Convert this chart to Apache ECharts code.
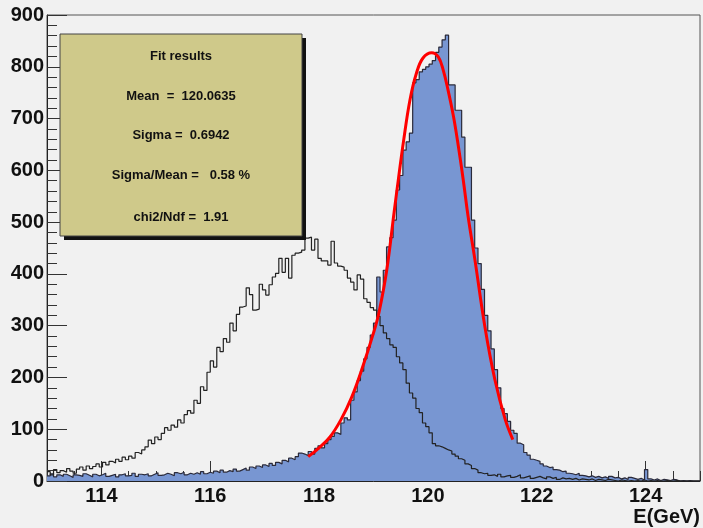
<!DOCTYPE html>
<html>
<head>
<meta charset="utf-8">
<script src="https://cdn.jsdelivr.net/npm/echarts@6/dist/echarts.min.js"></script>
<style>html,body{margin:0;padding:0;background:#f1f1f1;}#c{width:703px;height:528px;}</style>
</head>
<body>
<div id="c"></div>
<script>
// Histogram binning (GeV)
const binStart = 113;
const binWidth = 0.06;

// Filled (blue) histogram: corrected energy
const corrected = [
10,14,8,12,9, 13,10,7,12,11, 9,14,11,8,13, 10,12,15,9,11,
13,8,12,14,10, 11,15,9,13,12, 14,10,13,16,11, 12,15,13,10,16,
14,17,12,15,13, 16,13,18,14,17, 15,19,16,21,17, 20,18,23,19,22,
25,21,27,24,29, 26,31,28,34,30, 36,33,40,37,44, 41,47,54,52,49,
57,52,63,68,64, 72,80,86,93,90, 112,122,118,156,172, 194,212,236,258,282,
305,394,365,407,452, 470,504,562,590,639, 655,672,769,775,790, 795,800,805,812,828,
838,852,861,765,765, 716,716,664,606,606, 504,450,420,370,320, 290,255,215,180,140,
130,115,98,92,73, 70,55,50,42,40, 38,33,29,26,27, 22,21,18,19,15,
14,12,15,11,10, 8,10,7,9,6, 8,5,9,6,7, 4,6,3,7,5,
3,5,2,22,4, 2,4,1,3,2, 1,3,2,0,1, 0,1,0,0,0
];

// Open (outline) histogram: uncorrected energy
const uncorrected = [
18,12,22,16,20, 17,24,19,15,23, 27,21,29,24,28, 33,27,36,31,38,
35,42,38,46,41, 48,44,55,52,60, 66,79,72,85,80, 92,103,98,108,104,
118,112,128,136,131, 156,150,182,175,210, 232,220,258,250,275, 268,305,290,322,336,
338,373,360,330,332, 380,369,359,379,394, 401,430,403,430,392, 436,440,442,446,469,
471,446,467,430,425, 425,417,463,421,415, 413,407,392,384,369, 398,390,352,345,335,
330,318,300,286,275, 263,258,240,228,215, 189,170,160,140,132, 112,105,93,72,68,
66,63,60,58,52, 48,43,40,33,30, 24,21,16,14,15, 11,12,9,13,8,
10,11,7,9,12, 6,8,10,5,7, 9,6,4,8,5, 7,3,6,4,5,
3,5,2,4,3, 2,4,1,3,2, 1,3,2,1,0, 2,1,0,1,0,
1,0,2,0,1, 0,1,0,0,1, 0,0,1,0,0, 0,0,0,0,0
];

// Fit curve
const fitE = [117.80,118.00,118.20,118.40,118.60,118.80,119.00,119.10,119.24,119.38,119.46,119.55,119.67,119.79,119.91,120.07,120.19,120.28,120.37,120.47,120.56,120.65,120.74,120.86,121.05,121.23,121.42,121.56];
const fitV = [47,64,85,118,162,220,286,325,405,520,585,655,736,788,817,827,819,794,755,704,646,581,510,430,296,196,119,80];

const xMajorTicks = [114,116,118,120,122,124];
const xMin = 113, xMax = 125, xMinorStep = 0.5;
const yMin = 0, yMax = 900, yStep = 100;

const fitLines = [
  'Fit results',
  'Mean  =  120.0635',
  'Sigma =  0.6942',
  'Sigma/Mean =   0.58 %',
  'chi2/Ndf =  1.91'
];

function histPoints(values) {
  const pts = values.map((v, i) => [binStart + i * binWidth, v]);
  pts.push([binStart + values.length * binWidth, values[values.length - 1]]);
  return pts;
}

const FONT = 'Liberation Sans, Arial, Helvetica, sans-serif';
const chart = echarts.init(document.getElementById('c'), null, {renderer: 'canvas'});

const gridPos = {left: 47, right: 3, top: 15, bottom: 47};
const textY = [56, 96, 135, 175, 217];

chart.setOption({
  backgroundColor: '#f1f1f1',
  animation: false,
  grid: [
    Object.assign({show: true, borderColor: '#555', borderWidth: 1, backgroundColor: 'transparent'}, gridPos),
    Object.assign({show: false}, gridPos)
  ],
  xAxis: [
    {
      type: 'value', gridIndex: 0, min: xMin, max: xMax,
      axisLine: {show: true, onZero: false, lineStyle: {color: '#222', width: 1}},
      axisTick: {show: true, inside: true, length: 20, customValues: xMajorTicks, lineStyle: {color: '#333'}},
      axisLabel: {show: true, customValues: xMajorTicks, margin: 5, color: '#111', fontSize: 20, fontWeight: 'bold', fontFamily: FONT},
      splitLine: {show: false}
    },
    {
      type: 'value', gridIndex: 1, min: xMin, max: xMax, interval: xMinorStep,
      axisLine: {show: false},
      axisTick: {show: true, inside: true, length: 10, lineStyle: {color: '#333'}},
      axisLabel: {show: false},
      splitLine: {show: false}
    }
  ],
  yAxis: [
    {
      type: 'value', gridIndex: 0, min: yMin, max: yMax, interval: yStep,
      axisLine: {show: true, lineStyle: {color: '#222', width: 1}},
      axisTick: {show: true, inside: true, length: 20, lineStyle: {color: '#333'}},
      minorTick: {show: true, splitNumber: 5, length: 10, lineStyle: {color: '#333'}},
      axisLabel: {margin: 3, color: '#111', fontSize: 20, fontWeight: 'bold', fontFamily: FONT},
      splitLine: {show: false}
    },
    {
      type: 'value', gridIndex: 1, min: yMin, max: yMax, show: false
    }
  ],
  series: [
    {
      type: 'line', xAxisIndex: 0, yAxisIndex: 0, step: 'end', symbol: 'none',
      data: histPoints(corrected),
      lineStyle: {color: '#2a2a3a', width: 1.2},
      areaStyle: {color: '#7896d2', opacity: 1, origin: 'start'},
      z: 2
    },
    {
      type: 'line', xAxisIndex: 0, yAxisIndex: 0, step: 'end', symbol: 'none',
      data: histPoints(uncorrected),
      lineStyle: {color: '#222', width: 1.2},
      z: 3
    },
    {
      type: 'line', xAxisIndex: 0, yAxisIndex: 0, smooth: 0.4, symbol: 'none',
      data: fitE.map((e, i) => [e, fitV[i]]),
      lineStyle: {color: '#ff0000', width: 3},
      z: 4
    }
  ],
  graphic: [
    {type: 'rect', shape: {x: 64, y: 38, width: 242, height: 202}, style: {fill: '#111'}, z: 10},
    {type: 'rect', shape: {x: 60, y: 34, width: 242, height: 202}, style: {fill: '#cfc98a', stroke: '#444', lineWidth: 1}, z: 11},
    ...fitLines.map((t, i) => ({
      type: 'text', x: 181, y: textY[i], z: 12,
      style: {text: t, fill: '#111', font: 'bold 13px ' + FONT, textAlign: 'center', textVerticalAlign: 'middle'}
    })),
    {type: 'text', x: 700, y: 517, z: 12,
     style: {text: 'E(GeV)', fill: '#111', font: 'bold 20px ' + FONT, textAlign: 'right', textVerticalAlign: 'middle'}}
  ]
});
</script>
</body>
</html>
